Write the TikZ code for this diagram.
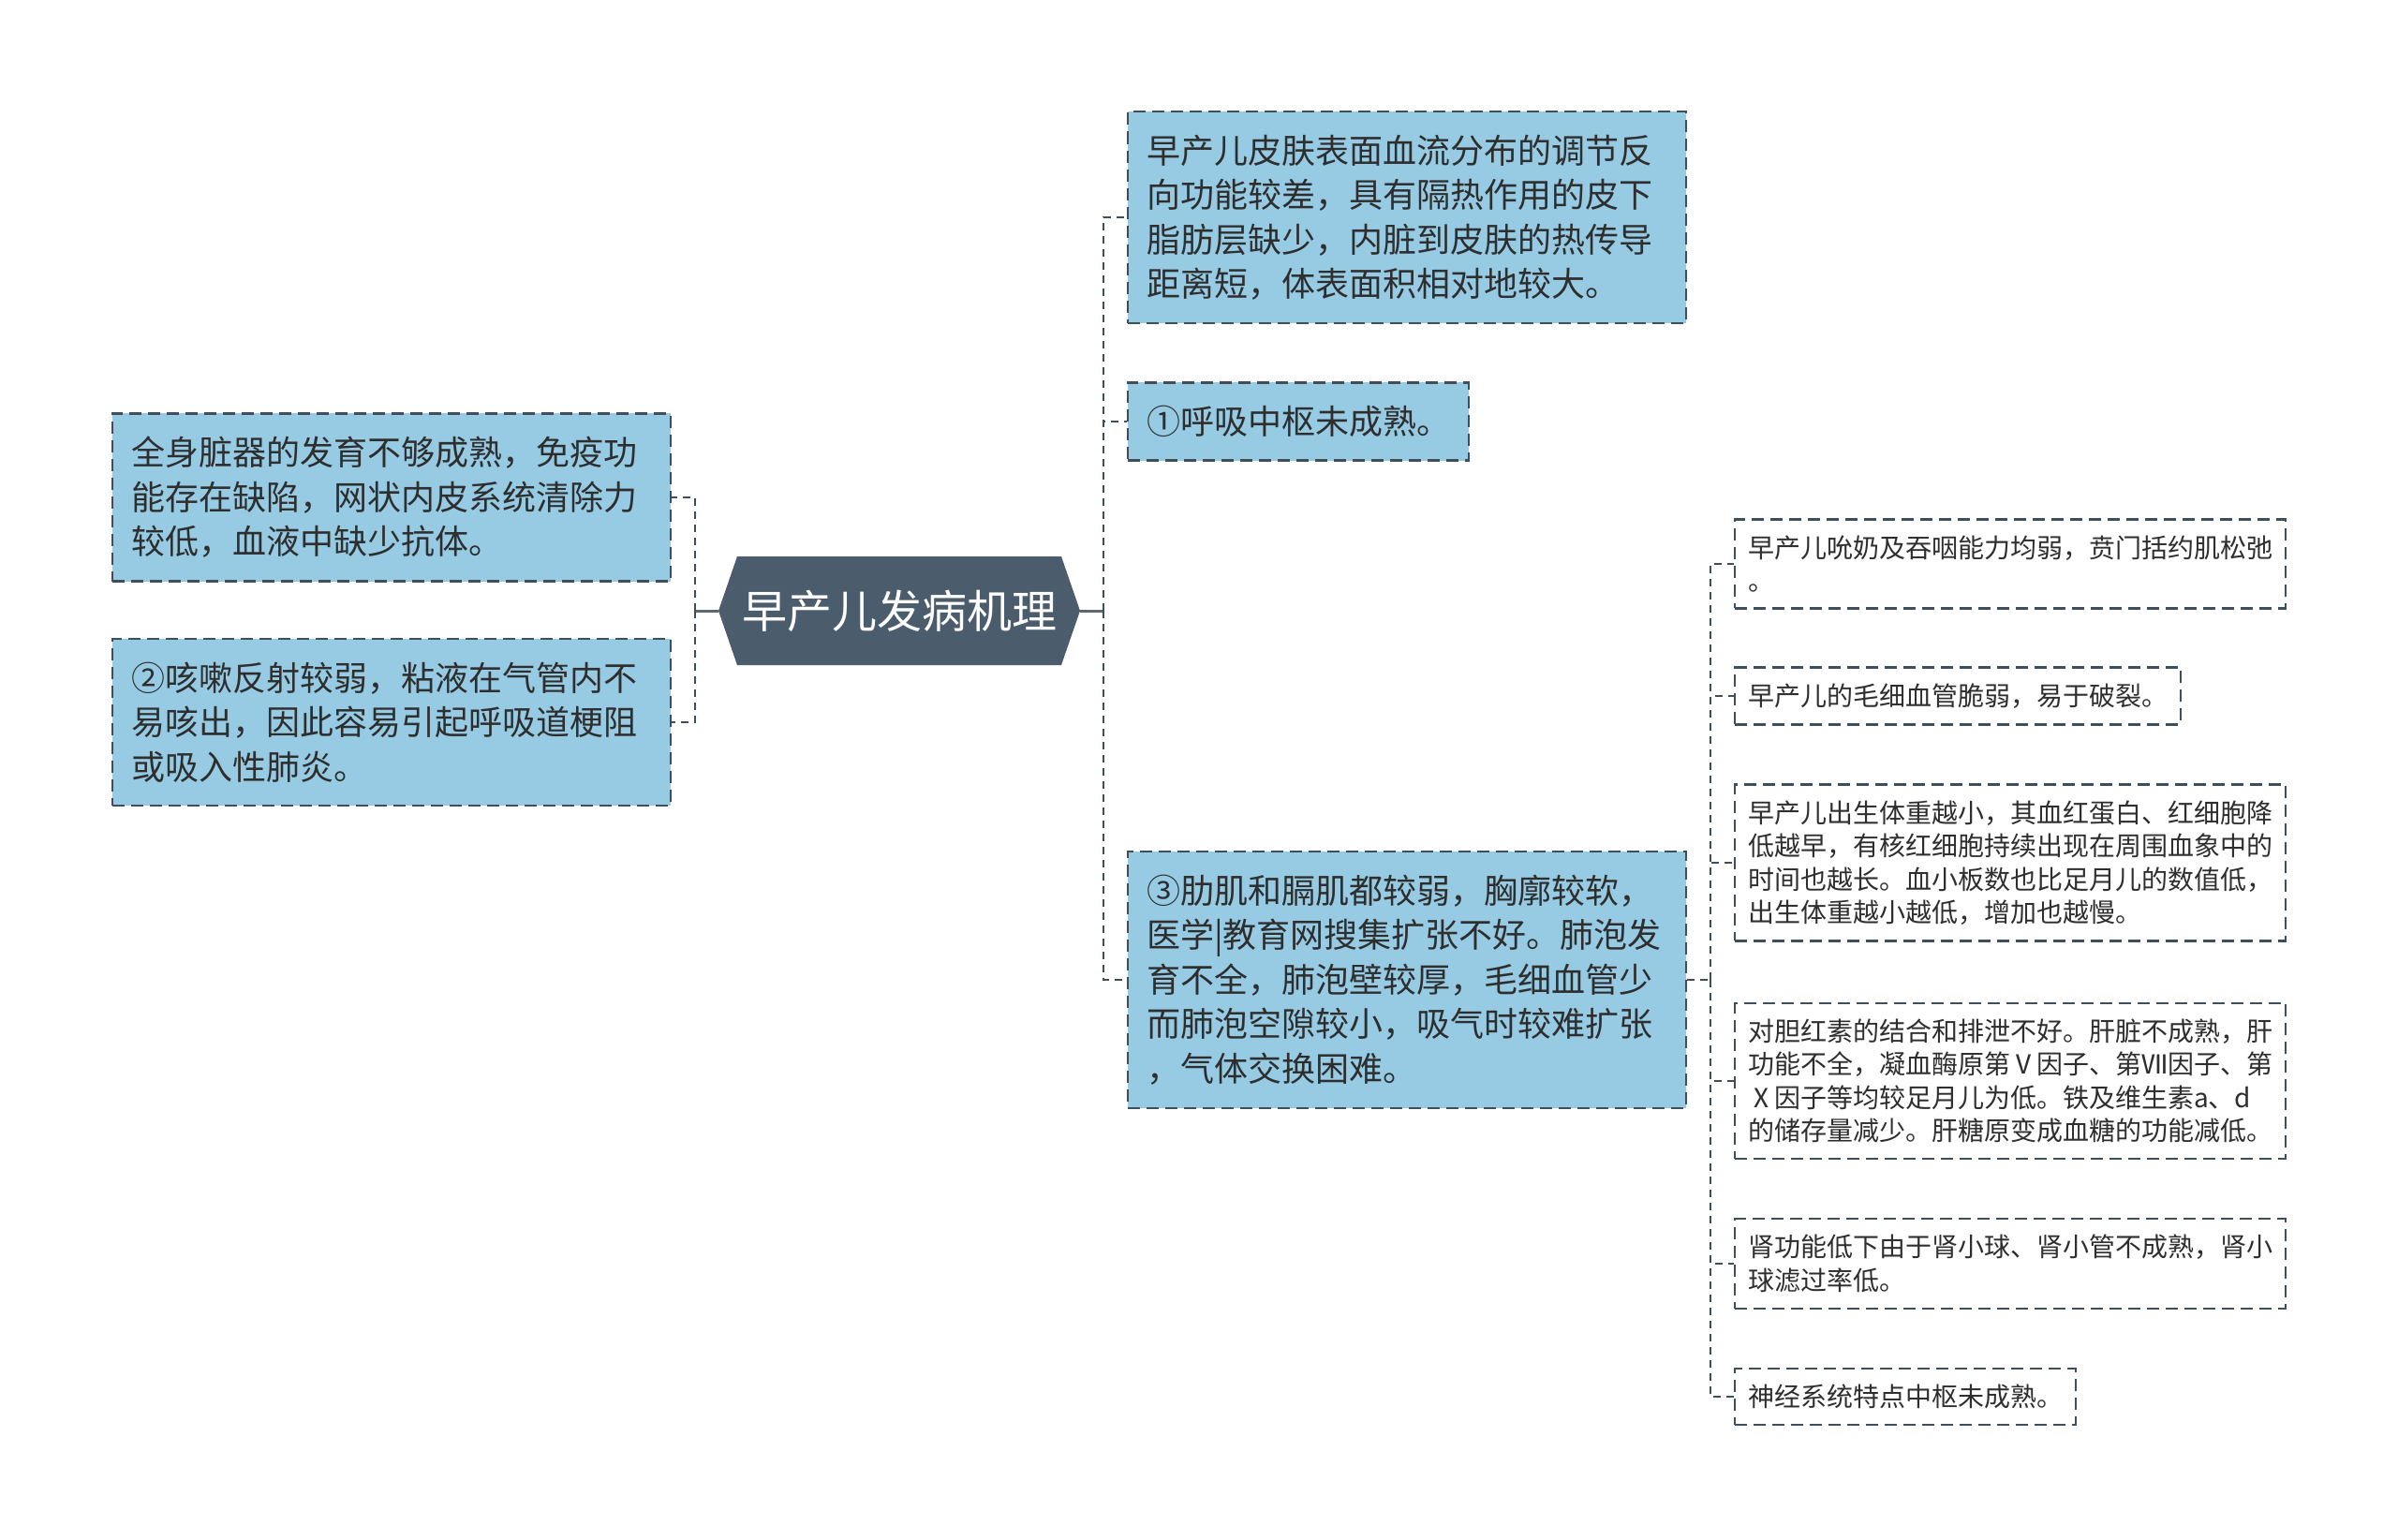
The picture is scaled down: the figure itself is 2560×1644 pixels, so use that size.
\documentclass[tikz,border=0pt]{standalone}
\usepackage{fontspec}
\newfontfamily\cjk{Noto Sans CJK SC}
\definecolor{boxblue}{HTML}{96CBE3}
\definecolor{slate}{HTML}{3F4E5B}
\definecolor{hexfill}{HTML}{4B5C6C}
\definecolor{inktext}{HTML}{2E2E2E}
\tikzset{
  topic/.style={draw=slate, line width=1.2pt, dash pattern=on 6.5pt off 3.5pt,
    fill=boxblue, text=inktext, align=left, anchor=west,
    inner xsep=10pt, inner ysep=12.4pt, font=\cjk\fontsize{18pt}{23.75pt}\selectfont},
  leaf/.style={draw=slate, line width=1.2pt, dash pattern=on 6.5pt off 3.5pt,
    fill=white, text=inktext, align=left, anchor=west,
    inner xsep=7pt, inner ysep=8.5pt, font=\cjk\fontsize{14pt}{17.7pt}\selectfont},
  root/.style={minimum width=193pt, minimum height=58pt, inner sep=0pt, text=white,
    font=\cjk\fontsize{24pt}{24pt}\selectfont,
    path picture={\fill[hexfill] ([xshift=10pt]path picture bounding box.north west)
      -- ([xshift=-10pt]path picture bounding box.north east) -- (path picture bounding box.east)
      -- ([xshift=-10pt]path picture bounding box.south east)
      -- ([xshift=10pt]path picture bounding box.south west) -- (path picture bounding box.west) -- cycle;}},
  link/.style={draw=slate, line width=1.3pt, dash pattern=on 4pt off 3pt},
  stem/.style={draw=slate!85, line width=1.5pt}
}
\begin{document}
\begin{tikzpicture}[x=0.5pt,y=-0.5pt]
  \useasboundingbox (0,0) rectangle (2560,1644);
  \node[root] (root) at (960,652) {早产儿发病机理};

  \node[topic, text width=278pt] (l1) at (119,531) {全身脏器的发育不够成熟，免疫功\\能存在缺陷，网状内皮系统清除力\\较低，血液中缺少抗体。};
  \node[topic, text width=278pt] (l2) at (119,771) {②咳嗽反射较弱，粘液在气管内不\\易咳出，因此容易引起呼吸道梗阻\\或吸入性肺炎。};

  \node[topic, text width=278pt] (b1) at (1203,232) {早产儿皮肤表面血流分布的调节反\\向功能较差，具有隔热作用的皮下\\脂肪层缺少，内脏到皮肤的热传导\\距离短，体表面积相对地较大。};
  \node[topic] (b2) at (1203,450) {①呼吸中枢未成熟。};
  \node[topic, text width=278pt] (b3) at (1203,1046) {③肋肌和膈肌都较弱，胸廓较软，\\医学|教育网搜集扩张不好。肺泡发\\育不全，肺泡壁较厚，毛细血管少\\而肺泡空隙较小，吸气时较难扩张\\，气体交换困难。};

  \node[leaf] (r1) at (1851,602) {早产儿吮奶及吞咽能力均弱，贲门括约肌松弛\\。};
  \node[leaf] (r2) at (1851,743) {早产儿的毛细血管脆弱，易于破裂。};
  \node[leaf] (r3) at (1851,921) {早产儿出生体重越小，其血红蛋白、红细胞降\\低越早，有核红细胞持续出现在周围血象中的\\时间也越长。血小板数也比足月儿的数值低，\\出生体重越小越低，增加也越慢。};
  \node[leaf] (r4) at (1851,1154) {对胆红素的结合和排泄不好。肝脏不成熟，肝\\功能不全，凝血酶原第Ⅴ因子、第Ⅶ因子、第\\Ⅹ因子等均较足月儿为低。铁及维生素a、d\\的储存量减少。肝糖原变成血糖的功能减低。};
  \node[leaf] (r5) at (1851,1349) {肾功能低下由于肾小球、肾小管不成熟，肾小\\球滤过率低。};
  \node[leaf] (r6) at (1851,1491) {神经系统特点中枢未成熟。};

  \coordinate (ltrunk) at (742,652);
  \coordinate (rtrunk) at (1178,652);
  \coordinate (subtrunk) at (1826,1046);

  \draw[stem] (root.west) -- (ltrunk);
  \draw[link] (ltrunk) |- (l1.east);
  \draw[link] (ltrunk) |- (l2.east);

  \draw[stem] (root.east) -- (rtrunk);
  \draw[link] (rtrunk) |- (b1.west);
  \draw[link] (rtrunk) |- (b2.west);
  \draw[link] (rtrunk) |- (b3.west);

  \draw[link] (b3.east) -- (subtrunk);
  \foreach \leafname in {r1,r2,r3,r4,r5,r6}
    \draw[link] (subtrunk) |- (\leafname.west);
\end{tikzpicture}
\end{document}
